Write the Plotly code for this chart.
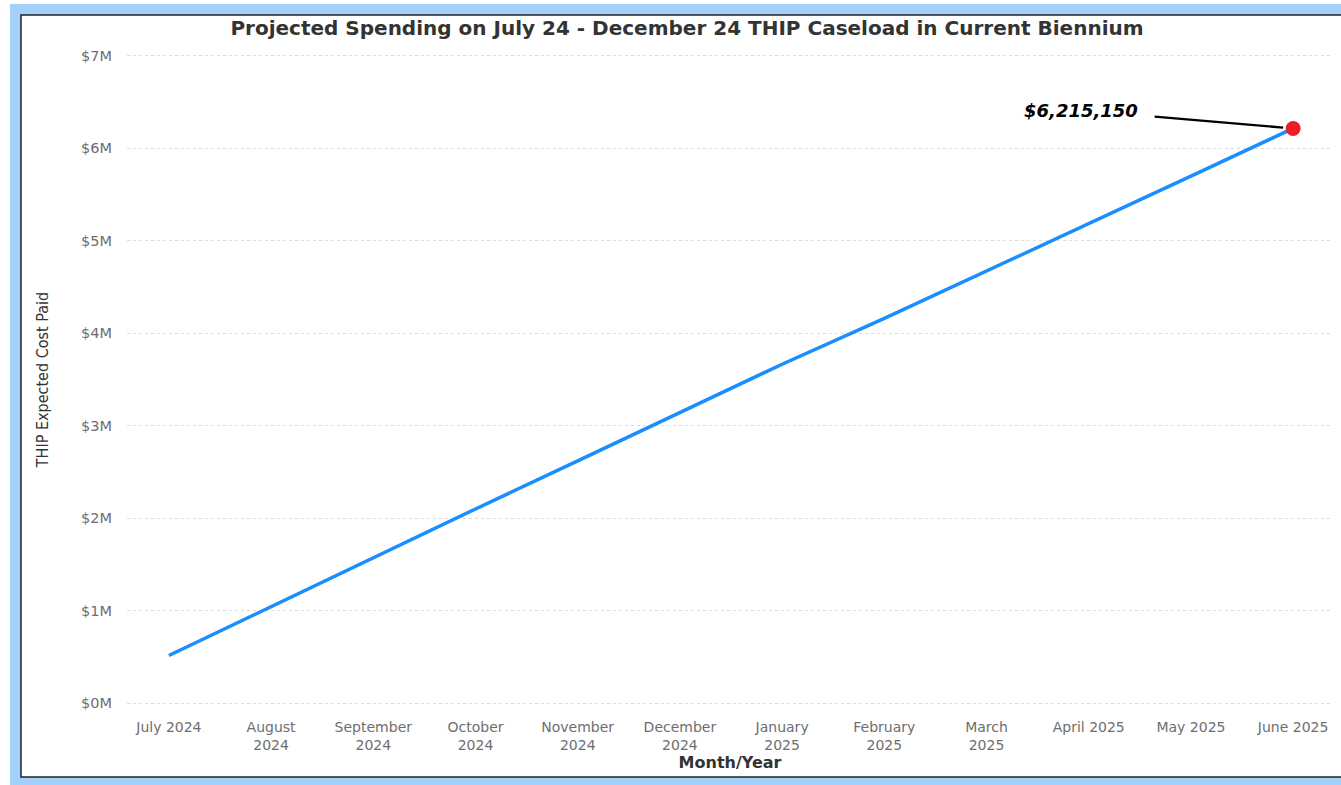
import plotly.graph_objects as go

months = ["July 2024", "August<br>2024", "September<br>2024", "October<br>2024",
          "November<br>2024", "December<br>2024", "January<br>2025", "February<br>2025",
          "March<br>2025", "April 2025", "May 2025", "June 2025"]
cost_paid = [515000, 1045000, 1570000, 2100000, 2620000, 3140000, 3665000,
             4160000, 4670000, 5190000, 5700000, 6215150]
y_ticks = [0, 1e6, 2e6, 3e6, 4e6, 5e6, 6e6, 7e6]
y_tick_text = ["$0M", "$1M", "$2M", "$3M", "$4M", "$5M", "$6M", "$7M"]
end_label = "$6,215,150"

W, H = 1341, 785
L, R, T, B = 127, 8, 54, 80
PW, PH = W - L - R, H - T - B

def px_x(p):
    return (p - L) / PW

def px_y(p):
    return (H - B - p) / PH

xi = list(range(len(months)))

fig = go.Figure()
fig.add_trace(go.Scatter(x=xi, y=cost_paid, mode="lines",
                         line=dict(color="#1a8dff", width=3.5),
                         hoverinfo="skip", showlegend=False))
fig.add_trace(go.Scatter(x=[xi[-1]], y=[cost_paid[-1]], mode="markers",
                         marker=dict(color="#ee1c25", size=15),
                         hoverinfo="skip", showlegend=False))

fig.add_annotation(x=xi[-1], y=cost_paid[-1], xref="x", yref="y",
                   text="<b><i>" + end_label + "</i></b>",
                   showarrow=True, arrowhead=0, arrowwidth=2.4, arrowcolor="#000",
                   ax=-212, ay=-18, standoff=10, borderpad=16,
                   font=dict(family="DejaVu Sans", size=18, color="#000"))

fig.update_layout(
    width=W, height=H,
    margin=dict(l=L, r=R, t=T, b=B, pad=0),
    paper_bgcolor="white", plot_bgcolor="rgba(0,0,0,0)",
    title=dict(text="Projected Spending on July 24 - December 24 THIP Caseload in Current Biennium",
               x=687 / W, xref="container", xanchor="center",
               y=1 - 28 / H, yref="container", yanchor="middle",
               font=dict(family="DejaVu Sans", size=20, color="#333", weight="bold")),
    xaxis=dict(tickmode="array", tickvals=xi, ticktext=months,
               range=[-0.41, 11.39], showgrid=False, zeroline=False, showline=False,
               ticks="", ticklabelstandoff=12,
               tickfont=dict(family="DejaVu Sans", size=14, color="#6e6e6e"),
               title=dict(text="Month/Year", standoff=0,
                          font=dict(family="DejaVu Sans", size=16, color="#333", weight="bold"))),
    yaxis=dict(tickmode="array", tickvals=y_ticks, ticktext=y_tick_text,
               range=[-20000, 7.02e6], showgrid=True, gridcolor="#dcdcdc", griddash="dot",
               gridwidth=1, zeroline=False, showline=False, ticks="",
               ticklabelstandoff=14,
               tickfont=dict(family="DejaVu Sans", size=14.5, color="#6e6e6e"),
               title=dict(text="THIP Expected Cost Paid", standoff=28,
                          font=dict(family="DejaVu Sans Condensed", size=16, color="#333"))),
    shapes=[
        dict(type="rect", xref="paper", yref="paper", layer="below",
             x0=px_x(10), x1=px_x(1345), y0=px_y(4), y1=px_y(790),
             fillcolor="#a3d0fb", line=dict(width=0)),
        dict(type="rect", xref="paper", yref="paper", layer="below",
             x0=px_x(21), x1=px_x(1345), y0=px_y(15), y1=px_y(777),
             fillcolor="white", line=dict(color="#222", width=1.5)),
    ],
)

fig.write_html("out.html")
